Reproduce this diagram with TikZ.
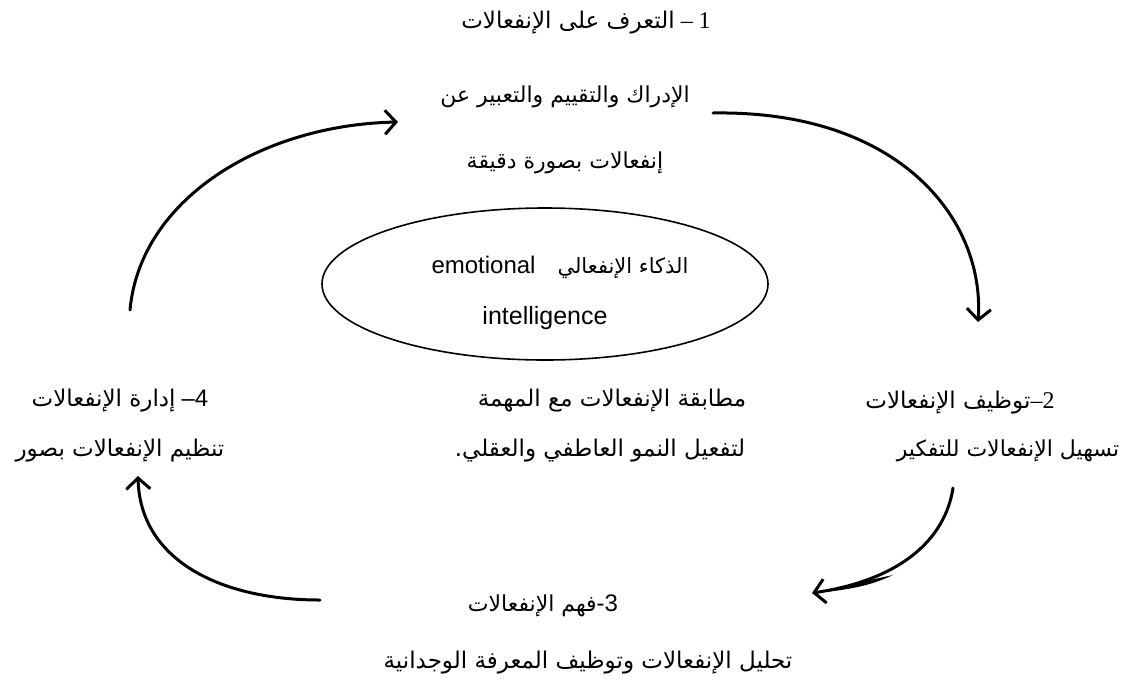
\documentclass[tikz,border=0pt]{standalone}
\usepackage{fontspec}
\setmainfont{Liberation Serif}
\newfontfamily\arfont[Script=Arabic]{DejaVu Sans}
\newfontfamily\lsans{Liberation Sans}
\TeXXeTstate=1
\usetikzlibrary{arrows.meta,shapes.geometric}
\newcommand{\arA}{\arfont\fontsize{22}{26}\selectfont}
\newcommand{\arB}{\arfont\fontsize{23}{27}\selectfont}
\tikzset{
  txt/.style={inner sep=0pt, font=\fontsize{24}{28}\selectfont},
  arrowline/.style={line width=3pt, line cap=round,
    -{Straight Barb[length=11pt,width=24pt,line width=3pt]}},
  ellbox/.style={draw, ellipse, line width=1.6pt, minimum width=446pt, minimum height=152pt, inner sep=0pt}
}
\begin{document}
\begin{tikzpicture}[x=1pt,y=-1pt]
\useasboundingbox (0,0) rectangle (1129,681);
% top group
\node[txt] (t1) at (586,23) {{\arB\beginR التعرف على الإنفعالات\endR}\ –\ 1};
\node[txt] (t2) at (565,97) {\arA\beginR الإدراك والتقييم والتعبير عن\endR};
\node[txt] (t3) at (565,163) {\arA\beginR إنفعالات بصورة دقيقة\endR};
% ellipse
\node[ellbox] (ell) at (545,284) {};
\node[txt] (e1) at (560,267) {{\lsans emotional}\hspace{22pt}{\arfont\fontsize{21}{25}\selectfont\beginR الذكاء الإنفعالي\endR}};
\node[txt] (e2) at (545,318) {\lsans\fontsize{25}{29}\selectfont intelligence};
% right group
\node[txt] (r1) at (960,403) {{\arB\beginR توظيف الإنفعالات\endR}–2};
\node[txt] (r2) at (1008,451) {\arA\beginR تسهيل الإنفعالات للتفكير\endR};
% middle group
\node[txt] (m1) at (612,401) {\arB\beginR مطابقة الإنفعالات مع المهمة\endR};
\node[txt] (m2) at (600,451) {\arB\beginR لتفعيل النمو العاطفي والعقلي.\endR};
% left group
\node[txt] (l1) at (120,401) {{\arB\beginR إدارة الإنفعالات\endR}\ {\lsans –4}};
\node[txt] (l2) at (120,451) {\arB\beginR تنظيم الإنفعالات بصور\endR};
% bottom group
\node[txt] (b1) at (543,606) {{\arA\beginR فهم الإنفعالات\endR}{\lsans -3}};
\node[txt] (b2) at (588,663) {\arB\beginR تحليل الإنفعالات وتوظيف المعرفة الوجدانية\endR};
% arrow end points
\coordinate (a1s) at (130,310);
\coordinate (a1e) at (398,122);
\coordinate (a2s) at (713,113);
\coordinate (a2e) at (978,322);
\coordinate (a3s) at (953,488);
\coordinate (a3e) at (812,593);
\coordinate (a4s) at (320,600);
\coordinate (a4e) at (138,476);
\draw[arrowline] (a1s) .. controls (140,200) and (260,125) .. (a1e);
\draw[arrowline] (a2s) .. controls (900,110) and (985,220) .. (a2e);
\draw[arrowline] (a3s) .. controls (945,540) and (900,580) .. (a3e);
\fill (893,575) .. controls (870,586) and (850,589) .. (826,592) .. controls (850,584) and (870,580) .. (893,575) -- cycle;
\draw[arrowline] (a4s) .. controls (220,600) and (140,560) .. (a4e);
\end{tikzpicture}
\end{document}
